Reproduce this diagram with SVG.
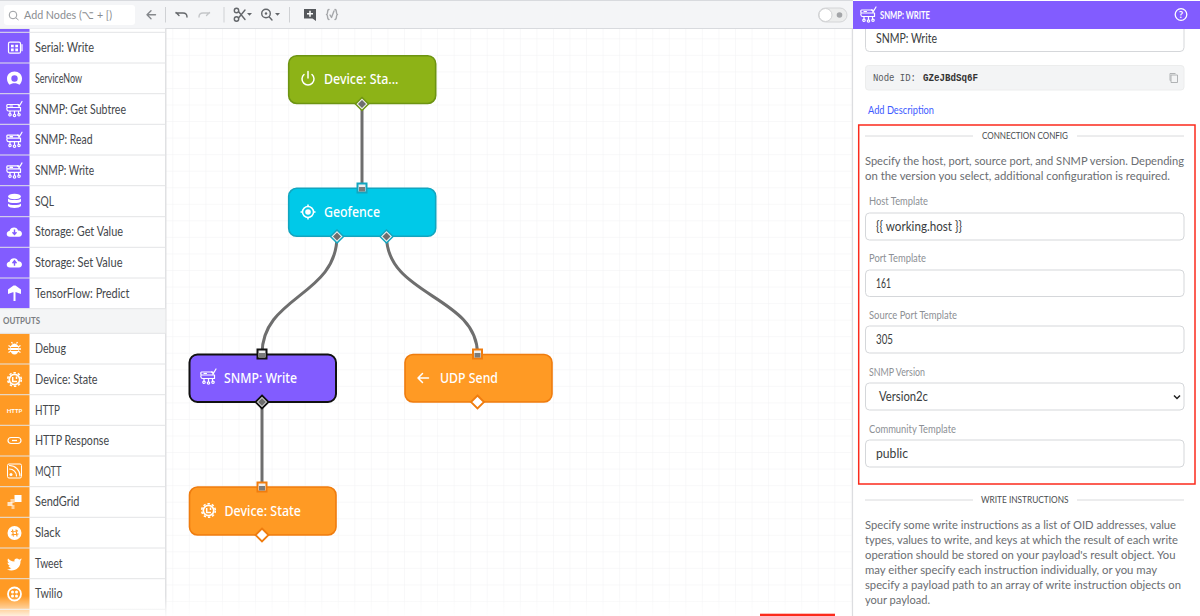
<svg xmlns="http://www.w3.org/2000/svg" xmlns:xlink="http://www.w3.org/1999/xlink" width="1200" height="616" viewBox="0 0 1200 616">
<style>
text{font-family:"Lato","Noto Sans","Liberation Sans",sans-serif}
.side{font-size:12.5px;fill:#44474b}
.nl{font-size:13.5px;font-weight:500;fill:#fff;font-family:"Noto Sans","Lato",sans-serif}
.lab{font-size:10.5px;fill:#8d9095}
.val{font-size:12.5px;fill:#3a3d40}
.para{font-size:11.5px;fill:#6a6d71}
.div{font-size:9.5px;fill:#4a4d50}
.dl{stroke:#d9dadc;stroke-width:1;fill:none}
.inp{fill:#fff;stroke:#d5d7da;stroke-width:1}
.ico{fill:none;stroke:#fff;stroke-width:1.2;stroke-linecap:round;stroke-linejoin:round}
.icf{fill:#fff}
.tb{fill:none;stroke:#64676b;stroke-width:1.4;stroke-linecap:round;stroke-linejoin:round}
.tbl{fill:none;stroke:#c4c6c9;stroke-width:1.4;stroke-linecap:round;stroke-linejoin:round}
.rowl{stroke:#e3e4e6;stroke-width:1}
.pur{fill:#825cff}.org{fill:#ff9a24}
.conn{fill:none;stroke:#6e6e6e;stroke-width:3}
</style>
<defs>
<pattern id="grid" x="172.3" y="5.2" width="16.55" height="16.55" patternUnits="userSpaceOnUse">
<path d="M0 0V16.55M0 0H16.55" fill="none" stroke="#f1f2f3" stroke-width="1"/>
</pattern>
<linearGradient id="fade" x1="0" y1="0" x2="0" y2="1"><stop offset="0" stop-color="#fff" stop-opacity="0"/><stop offset="1" stop-color="#fff" stop-opacity=".85"/></linearGradient>
<g id="i-snmp"><path class="ico" d="M-7-4.500H4.500V-1.500H-7C-8-1.500-8-4.500-7-4.500ZM-7-1.500H6V2H-6C-8 2-8-1.500-7-1.500ZM-4.500 2V4.500M0 2V5M4 2V4.500M-4.500-3H-2"/><circle class="ico" cx="-4.500" cy="5.800" r="1.200"/><circle class="ico" cx="0" cy="6.500" r="1.200"/><circle class="ico" cx="4.500" cy="5.800" r="1.200"/><path class="ico" d="M3-4.500L5-3.200 7.500-7.500"/></g>
<g id="i-chip"><circle r="5.200" fill="none" stroke="#fff" stroke-width="1.700"/><circle r="6.800" fill="none" stroke="#fff" stroke-width="1.600" stroke-dasharray="2.400 2"/><path d="M-1.800-2.500V2H2.500M2-3V-.5" fill="none" stroke="#fff" stroke-width="1.500"/></g>
<g id="pi"><rect x="-4.500" y="-4.500" width="9" height="9" fill="#f0f0f0" stroke-width="2"/><rect x="-3" y="-1" width="6" height="4.500" fill="#6e6e6e" opacity=".9" stroke="none"/></g>
</defs>
<rect width="1200" height="616" fill="#fff"/>
<rect x="166" y="28" width="687" height="588" fill="url(#grid)"/>
<g id="toolbar">
<rect x="0" y="0" width="853" height="28.500" fill="#f4f5f7"/>
<path d="M0 .5H853M0 28.500H853" stroke="#d8dade" fill="none"/>
<rect x="4" y="5" width="131" height="20" rx="3" fill="#fff"/>
<circle cx="13" cy="15" r="3.800" fill="none" stroke="#9a9da1" stroke-width="1"/><path d="M15.800 17.800L18.500 20" stroke="#9a9da1" stroke-width="1"/>
<text x="24" y="19" font-size="11.500" fill="#8a8d91" textLength="88" lengthAdjust="spacingAndGlyphs" style="font-family:'Lato','DejaVu Sans',sans-serif">Add Nodes (⌥ + [)</text>
<path class="tb" style="stroke:#85888c" d="M155.500 14.800H147M151 10.800L147 14.800 151 18.800"/>
<path d="M165.500 7V22.500M224 7V22.500M289.500 7V22.500" stroke="#cfd1d4" fill="none"/>
<path class="tb" d="M176 12.500L179 15.500M176 13H183C186 13 187 15 187 17"/>
<path class="tbl" d="M209.500 12.500L206.500 15.500M209.500 13H203C200 13 199 15 199 17"/>
<circle class="tb" cx="236.500" cy="10.500" r="2.200"/><circle class="tb" cx="236.500" cy="19" r="2.200"/><path class="tb" d="M238.500 11.500L245 19.500M238.500 18L245 10"/>
<path d="M247 13H252L249.500 15.800Z" fill="#64676b"/>
<circle class="tb" cx="266" cy="13.500" r="4.300"/><path class="tb" d="M269.300 17L272 20"/><circle cx="266" cy="13.500" r="1.200" fill="#64676b"/>
<path d="M275 13H280L277.500 15.800Z" fill="#64676b"/>
<path d="M304 9H316V21L312.500 18.500H304Z" fill="#55585c"/><path d="M310 10.800V16.800M307 13.800H313" stroke="#fff" stroke-width="1.500"/>
<path class="tbl" style="stroke:#a5a7aa" d="M329 9.500C326.500 9.500 328.500 14.500 326.500 14.500C328.500 14.500 326.500 19.500 329 19.500M335 9.500C337.500 9.500 335.500 14.500 337.500 14.500C335.500 14.500 337.500 19.500 335 19.500M330 15L331.500 17.500 334 11"/>
<rect x="818.500" y="8" width="28.500" height="14" rx="7" fill="#eceded" stroke="#d4d5d7"/>
<circle cx="825.500" cy="15" r="6.500" fill="#fff" stroke="#d0d1d3"/>
<circle cx="839.500" cy="15" r="2.800" fill="#a3a5a8"/>
</g>
<g id="palette">
<rect x="0" y="28.500" width="165.500" height="587.500" fill="#fff"/>
<path d="M165.800 28.500V616" stroke="#d9dadd" stroke-width="1.200"/>
<rect class="pur" x="0" y="29" width="29.500" height="279.500"/>
<rect class="org" x="0" y="333.500" width="29.500" height="282.500"/>
<rect x="0" y="308.700" width="165.500" height="24.600" fill="#f4f5f6"/>
<path class="rowl" d="M0 32.300H165.500M0 63H165.500M0 93.700H165.500M0 124.300H165.500M0 155H165.500M0 185.700H165.500M0 216.700H165.500M0 247.300H165.500M0 278H165.500M0 308.700H165.500M0 333.300H165.500M0 364H165.500M0 394.700H165.500M0 425.300H165.500M0 456H165.500M0 486.700H165.500M0 517.300H165.500M0 548H165.500M0 578.700H165.500M0 609.300H165.500" fill="none"/>
<text class="side" x="35" y="52" textLength="59" lengthAdjust="spacingAndGlyphs">Serial: Write</text>
<text class="side" x="35" y="83" textLength="47" lengthAdjust="spacingAndGlyphs">ServiceNow</text>
<text class="side" x="35" y="113.500" textLength="91" lengthAdjust="spacingAndGlyphs">SNMP: Get Subtree</text>
<text class="side" x="35" y="144" textLength="57.500" lengthAdjust="spacingAndGlyphs">SNMP: Read</text>
<text class="side" x="35" y="175" textLength="59" lengthAdjust="spacingAndGlyphs">SNMP: Write</text>
<text class="side" x="35" y="205.500" textLength="19" lengthAdjust="spacingAndGlyphs">SQL</text>
<text class="side" x="35" y="236" textLength="88" lengthAdjust="spacingAndGlyphs">Storage: Get Value</text>
<text class="side" x="35" y="267" textLength="87.500" lengthAdjust="spacingAndGlyphs">Storage: Set Value</text>
<text class="side" x="35" y="297.500" textLength="94.500" lengthAdjust="spacingAndGlyphs">TensorFlow: Predict</text>
<text x="3" y="323.500" font-size="8.500" font-weight="700" fill="#7a7d81" textLength="37" lengthAdjust="spacingAndGlyphs">OUTPUTS</text>
<text class="side" x="35" y="353" textLength="31" lengthAdjust="spacingAndGlyphs">Debug</text>
<text class="side" x="35" y="383.500" textLength="62.500" lengthAdjust="spacingAndGlyphs">Device: State</text>
<text class="side" x="35" y="414.500" textLength="25" lengthAdjust="spacingAndGlyphs">HTTP</text>
<text class="side" x="35" y="445" textLength="74" lengthAdjust="spacingAndGlyphs">HTTP Response</text>
<text class="side" x="35" y="475.500" textLength="26.500" lengthAdjust="spacingAndGlyphs">MQTT</text>
<text class="side" x="35" y="506" textLength="44.500" lengthAdjust="spacingAndGlyphs">SendGrid</text>
<text class="side" x="35" y="537" textLength="25.500" lengthAdjust="spacingAndGlyphs">Slack</text>
<text class="side" x="35" y="567.500" textLength="27.500" lengthAdjust="spacingAndGlyphs">Tweet</text>
<text class="side" x="35" y="598" textLength="27.500" lengthAdjust="spacingAndGlyphs">Twilio</text>
<g transform="translate(14.500 47.700)"><rect class="ico" x="-6" y="-5.500" width="12" height="11" rx="1.500"/><path fill="#fff" d="M-3.500-3H-.8V-.5H-3.500ZM.8-3H3.500V-.5H.8ZM-3.500.8H-.8V3.500H-3.500ZM.8.8H3.500V3.500H.8Z"/><path class="ico" d="M7.500-3V3"/></g>
<g transform="translate(14.500 78.500)"><path fill="#fff" fill-rule="evenodd" d="M0-7C4.300-7 7.500-3.800 7.500 0 7.500 2.700 6.500 4.800 5 6.300 3.800 5.200 2 4.700 0 4.700S-3.800 5.200-5 6.300C-6.500 4.800-7.500 2.700-7.500 0-7.500-3.800-4.300-7 0-7ZM0-3.200A3.200 3.200 0 1 0 0 3.200 3.200 3.200 0 1 0 0-3.200Z"/></g>
<use xlink:href="#i-snmp" href="#i-snmp" x="14.500" y="109"/>
<use xlink:href="#i-snmp" href="#i-snmp" x="14.500" y="139.700"/>
<use xlink:href="#i-snmp" href="#i-snmp" x="14.500" y="170.400"/>
<g transform="translate(14.500 201)"><ellipse cx="0" cy="-4.500" rx="6.500" ry="2.800" fill="#fff"/><path fill="#fff" d="M-6.500-2.500C-5-.5 5-.5 6.500-2.500V.5C5 2.500-5 2.500-6.500.5ZM-6.500 2.500C-5 4.500 5 4.500 6.500 2.500V5C5 7.500-5 7.500-6.500 5Z"/></g>
<g id="cloud1" transform="translate(14.500 232)"><path fill="#fff" d="M-4.500 4.800C-9 4.800-8.500-1-5-1-4-5.500 3-5.500 3.500-1.500 8.500-2 8.800 4.800 4.500 4.800Z"/><path d="M0-2.500V2M-2 .3L0 2.500 2 .3" fill="none" stroke="#825cff" stroke-width="1.400"/></g>
<g transform="translate(14.500 262.700)"><path fill="#fff" d="M-4.500 4.800C-9 4.800-8.500-1-5-1-4-5.500 3-5.500 3.500-1.500 8.500-2 8.800 4.800 4.500 4.800Z"/><path d="M0 3V-1.500M-2 .5L0-2 2 .5" fill="none" stroke="#825cff" stroke-width="1.400"/></g>
<path fill="#fff" d="M13.500 285.500V292L8 294V289.500ZM15.500 285.500L21 289.500V294L15.500 292V301H13.500V285.500Z"/>
<g transform="translate(14.500 349)"><ellipse cx="0" cy="0" rx="4.300" ry="5.500" fill="#fff"/><path d="M-6-3.500L-3.500-2M6-3.500L3.500-2M-6.500 0H-4M6.500 0H4M-6 3.500L-3.500 2M6 3.500L3.500 2M-2-5.500L-3-7M2-5.500L3-7" stroke="#fff" stroke-width="1.300"/><path d="M-3.500-1.500H3.500M-3.500 1.500H3.500" stroke="#ff9a24"/></g>
<use xlink:href="#i-chip" href="#i-chip" x="14.500" y="379.500"/>
<text x="14.500" y="413" font-size="6" font-weight="700" fill="#fff" text-anchor="middle">HTTP</text>
<g transform="translate(14.500 440.500)"><rect class="ico" x="-6.500" y="-3" width="13" height="6" rx="3"/><path d="M-2.500 0H2.500" stroke="#fff" stroke-width="1.300"/></g>
<g transform="translate(14.500 471)"><rect x="-7" y="-7" width="14" height="14" rx="1.500" fill="none" stroke="#fff" stroke-width="1"/><path d="M-5-2A7 7 0 0 1 2 5M-5-5.500A10.500 10.500 0 0 1 5.500 5" class="ico"/><circle cx="-3.500" cy="3.500" r="1.500" fill="#fff"/></g>
<g transform="translate(14.500 502)" fill="#fff"><rect x="0" y="-7" width="7" height="7"/><rect x="-4" y="-3" width="4" height="4" opacity=".55"/><rect x="-7" y="0" width="5" height="4" opacity=".75"/><rect x="-3" y="3" width="3" height="4" opacity=".55"/></g>
<g transform="translate(14.500 533)"><circle r="7" fill="#fff"/><path d="M-2-3.500L-1 3.500M1.500-3.500L2.500 3.500M-3.500-1.500L3.500-2.200M-3 1.800L4 1" stroke="#ff9a24" stroke-width="1.200"/></g>
<path fill="#fff" d="M21.500 558.500C20.500 559 20 559.500 19 559.500 17.500 557.500 13.500 558.500 14.500 561.500 11 561.500 9.500 560 8 558.500 7 560.500 8 562.500 9 563 8.500 563 8 563 7.500 562.500 7.500 564.500 9 565.500 10 566H8.500C9 567.500 10.500 568 11.500 568 10 569 8.500 569.500 7 569.500 14 572.500 21 568 20.500 561 21 560.500 21.500 559.500 21.500 558.500Z"/>
<g transform="translate(14.500 594)"><circle r="6.500" fill="none" stroke="#fff" stroke-width="1.800"/><circle cx="-2" cy="-2" r="1.500" fill="#fff"/><circle cx="2" cy="-2" r="1.500" fill="#fff"/><circle cx="-2" cy="2" r="1.500" fill="#fff"/><circle cx="2" cy="2" r="1.500" fill="#fff"/></g>
</g>
<rect x="0" y="596" width="853" height="20" fill="url(#fade)"/>
<g id="connectors">
<path class="conn" d="M362 104V188"/>
<path class="conn" d="M337 236C337 296 262 296 262 354"/>
<path class="conn" d="M386.500 236C386.500 296 477.500 296 477.500 354"/>
<path class="conn" d="M262 402V487"/>
</g>
<g id="node-device-start">
<rect x="288.700" y="55.700" width="147" height="47.800" rx="8" fill="#8db317" stroke="#6d9412" stroke-width="1.600"/>
<path d="M304 74.500A6 6 0 1 0 312 74.500M308 71.500V78" fill="none" stroke="#fff" stroke-width="1.500" stroke-linecap="round"/>
<text class="nl" x="324" y="84" textLength="74.500" lengthAdjust="spacingAndGlyphs">Device: Sta...</text>
<path d="M362 97.500L368.500 104 362 110.500 355.500 104Z" fill="#f1f1f1" stroke="#6d9412" stroke-width="1.500"/><path d="M362 100L366 104 362 108 358 104Z" fill="#6e6e6e"/>
</g>
<g id="node-geofence">
<rect x="288.700" y="188.300" width="147" height="48" rx="8" fill="#00c9e8" stroke="#12a5bf" stroke-width="1.600"/>
<circle cx="308" cy="212" r="5.500" fill="none" stroke="#fff" stroke-width="1.500"/><circle cx="308" cy="212" r="2.800" fill="#fff"/><path d="M308 204.500V206.500M308 217.500V219.500M300.500 212H302.500M313.500 212H315.500" stroke="#fff" stroke-width="1.500"/>
<text class="nl" x="324" y="216.500" textLength="56" lengthAdjust="spacingAndGlyphs">Geofence</text>
<use xlink:href="#pi" href="#pi" x="362" y="188" stroke="#12a5bf"/>
<path d="M337 230L343.500 236.500 337 243 330.500 236.500Z" fill="#f1f1f1" stroke="#12a5bf" stroke-width="1.500"/><path d="M337 232.500L341 236.500 337 240.500 333 236.500Z" fill="#6e6e6e"/>
<path d="M386.500 230L393 236.500 386.500 243 380 236.500Z" fill="#f1f1f1" stroke="#12a5bf" stroke-width="1.500"/><path d="M386.500 232.500L390.500 236.500 386.500 240.500 382.500 236.500Z" fill="#6e6e6e"/>
</g>
<g id="node-snmp-write">
<rect x="189.500" y="354.500" width="146.500" height="47.500" rx="8" fill="#825cff" stroke="#111" stroke-width="2"/>
<use xlink:href="#i-snmp" href="#i-snmp" x="208.500" y="376.500"/>
<text class="nl" x="224" y="383" textLength="73" lengthAdjust="spacingAndGlyphs">SNMP: Write</text>
<use xlink:href="#pi" href="#pi" x="262" y="354" stroke="#111"/>
<path d="M262 395.500L268.500 402 262 408.500 255.500 402Z" fill="#f1f1f1" stroke="#111" stroke-width="1.800"/><path d="M262 398L266 402 262 406 258 402Z" fill="#6e6e6e"/>
</g>
<g id="node-udp-send">
<rect x="405" y="354.500" width="147" height="47.500" rx="8" fill="#ff9a24" stroke="#ef7c0e" stroke-width="1.600"/>
<path d="M428.500 378H418.500M422.500 373.500L418 378 422.500 382.500" fill="none" stroke="#fff" stroke-width="1.500" stroke-linecap="round" stroke-linejoin="round"/>
<text class="nl" x="440" y="383" textLength="58" lengthAdjust="spacingAndGlyphs">UDP Send</text>
<use xlink:href="#pi" href="#pi" x="477.500" y="354" stroke="#ef7c0e"/>
<path d="M477.500 395.500L484 402 477.500 408.500 471 402Z" fill="#fff" stroke="#ef7c0e" stroke-width="1.800"/>
</g>
<g id="node-device-state">
<rect x="189.500" y="487" width="146.500" height="48" rx="8" fill="#ff9a24" stroke="#ef7c0e" stroke-width="1.600"/>
<use xlink:href="#i-chip" href="#i-chip" x="208.500" y="510.500"/>
<text class="nl" x="224.500" y="515.500" textLength="76.500" lengthAdjust="spacingAndGlyphs">Device: State</text>
<use xlink:href="#pi" href="#pi" x="262" y="487" stroke="#ef7c0e"/>
<path d="M262 528.500L268.500 535 262 541.500 255.500 535Z" fill="#fff" stroke="#ef7c0e" stroke-width="1.800"/>
</g>
<g id="panel">
<rect x="853" y="0" width="347" height="616" fill="#fff"/>
<path d="M852.500 29V616" stroke="#dcdde0" stroke-width="1.200"/>
<rect x="853" y="1" width="347" height="28" fill="#825cff"/>
<use xlink:href="#i-snmp" href="#i-snmp" x="868.500" y="14.500"/>
<text x="880" y="18.500" font-size="11" font-weight="700" fill="#fff" textLength="50" lengthAdjust="spacingAndGlyphs">SNMP: WRITE</text>
<circle cx="1181" cy="14.500" r="5.800" fill="none" stroke="#fff" stroke-width="1.300"/>
<text x="1181" y="18" font-size="9.500" font-weight="700" fill="#fff" text-anchor="middle">?</text>
<path d="M865.500 29V47.500Q865.500 51.500 869.500 51.500H1180Q1184 51.500 1184 47.500V29" fill="#fff" stroke="#d5d7da"/>
<text class="val" x="876" y="43" textLength="61" lengthAdjust="spacingAndGlyphs">SNMP: Write</text>
<rect x="865.500" y="65.500" width="318.500" height="24.500" rx="3" fill="#f3f4f5" stroke="#eceded"/>
<text x="873" y="81" font-size="10" fill="#55585c" style="font-family:'Liberation Mono',monospace" textLength="43" lengthAdjust="spacingAndGlyphs">Node ID:</text>
<text x="923" y="81" font-size="10" font-weight="700" fill="#333" style="font-family:'Liberation Mono',monospace" textLength="55" lengthAdjust="spacingAndGlyphs">GZeJBdSq6F</text>
<path d="M1171 75H1177.500V82.500H1171ZM1170.500 80.500H1170V73.500H1175.500" fill="none" stroke="#a9abae" stroke-width=".9"/>
<text x="868" y="113.500" font-size="10.500" fill="#3e5bff" textLength="66" lengthAdjust="spacingAndGlyphs">Add Description</text>
<rect x="858.700" y="125" width="336.300" height="359" fill="none" stroke="#fb2a1c" stroke-width="1.500"/>
<path class="dl" d="M865 136H973M1077 136H1184"/>
<text class="div" x="982" y="138.800" textLength="86" lengthAdjust="spacingAndGlyphs">CONNECTION CONFIG</text>
<text class="para" x="865" y="164.500" textLength="319" lengthAdjust="spacingAndGlyphs">Specify the host, port, source port, and SNMP version. Depending</text>
<text class="para" x="865" y="179.500" textLength="305" lengthAdjust="spacingAndGlyphs">on the version you select, additional configuration is required.</text>
<text class="lab" x="869" y="205" textLength="59" lengthAdjust="spacingAndGlyphs">Host Template</text>
<rect class="inp" x="865.500" y="213" width="318.500" height="27" rx="4"/>
<text class="val" x="876" y="231" textLength="86" lengthAdjust="spacingAndGlyphs">{{ working.host }}</text>
<text class="lab" x="869" y="262" textLength="57" lengthAdjust="spacingAndGlyphs">Port Template</text>
<rect class="inp" x="865.500" y="270" width="318.500" height="26.500" rx="4"/>
<text class="val" x="876" y="287.500" textLength="15" lengthAdjust="spacingAndGlyphs">161</text>
<text class="lab" x="869" y="318.500" textLength="88" lengthAdjust="spacingAndGlyphs">Source Port Template</text>
<rect class="inp" x="865.500" y="326" width="318.500" height="27" rx="4"/>
<text class="val" x="876" y="344" textLength="17" lengthAdjust="spacingAndGlyphs">305</text>
<text class="lab" x="869" y="376" textLength="56" lengthAdjust="spacingAndGlyphs">SNMP Version</text>
<rect class="inp" x="865.500" y="383" width="318.500" height="27" rx="4"/>
<text class="val" x="879" y="401" textLength="49" lengthAdjust="spacingAndGlyphs">Version2c</text>
<path d="M1174 395.500L1177 398.500 1180 395.500" fill="none" stroke="#222" stroke-width="1.500"/>
<text class="lab" x="869" y="432.500" textLength="87" lengthAdjust="spacingAndGlyphs">Community Template</text>
<rect class="inp" x="865.500" y="440" width="318.500" height="27" rx="4"/>
<text class="val" x="876" y="457.500" textLength="32" lengthAdjust="spacingAndGlyphs">public</text>
<path class="dl" d="M865 500H973M1077 500H1184"/>
<text class="div" x="981" y="502.800" textLength="87.500" lengthAdjust="spacingAndGlyphs">WRITE INSTRUCTIONS</text>
<text class="para" x="865" y="528.500" textLength="311" lengthAdjust="spacingAndGlyphs">Specify some write instructions as a list of OID addresses, value</text>
<text class="para" x="865" y="543.500" textLength="313" lengthAdjust="spacingAndGlyphs">types, values to write, and keys at which the result of each write</text>
<text class="para" x="865" y="558.500" textLength="310.500" lengthAdjust="spacingAndGlyphs">operation should be stored on your payload's result object. You</text>
<text class="para" x="865" y="573.500" textLength="292" lengthAdjust="spacingAndGlyphs">may either specify each instruction individually, or you may</text>
<text class="para" x="865" y="588.500" textLength="316" lengthAdjust="spacingAndGlyphs">specify a payload path to an array of write instruction objects on</text>
<text class="para" x="865" y="603.500" textLength="65" lengthAdjust="spacingAndGlyphs">your payload.</text>
</g>
<rect id="red-strip" x="760" y="613.700" width="75" height="2.300" fill="#fb2a1c"/>
</svg>
